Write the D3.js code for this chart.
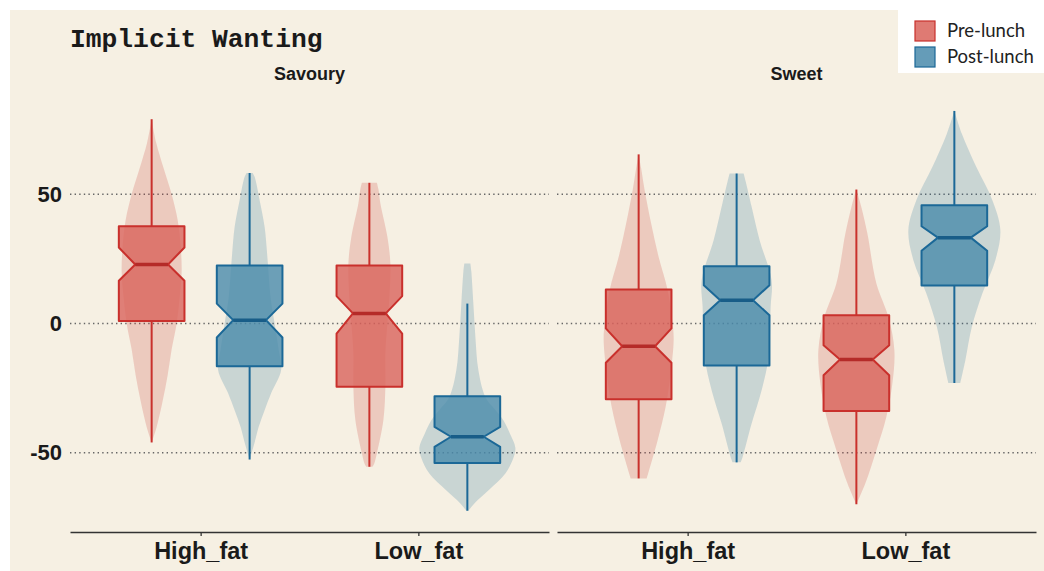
<!DOCTYPE html>
<html>
<head>
<meta charset="utf-8">
<script src="https://cdn.jsdelivr.net/npm/d3@7"></script>
<style>
  body { margin: 0; background: #ffffff; }
  svg { display: block; }
</style>
</head>
<body>
<div id="chart"></div>
<script>
var svgWidth = 1044;
var svgHeight = 571;

// facets, categories and the two sessions
var facets = ["Savoury", "Sweet"];
var foods = ["High_fat", "Low_fat"];
var sessions = ["Pre-lunch", "Post-lunch"];
var yTicks = [-50, 0, 50];

// box stats: [whiskerLow, q1, notchLow, median, notchHigh, q3, whiskerHigh]
var savouryPre = [[-46.0, 1.0, 16.5, 22.8, 29.4, 37.6, 79.0], [-55.4, -24.5, -3.9, 3.9, 10.6, 22.4, 54.4]];
var savouryPost = [[-52.6, -16.5, -5.4, 1.3, 7.7, 22.4, 58.2], [-72.4, -53.9, -47.7, -43.8, -40.0, -28.1, 7.7]];
var sweetPre = [[-59.9, -29.3, -15.2, -8.8, -1.9, 13.1, 65.4], [-69.9, -33.8, -20.0, -13.9, -8.4, 3.2, 51.8]];
var sweetPost = [[-53.7, -16.2, 3.2, 9.0, 14.8, 22.1, 58.0], [-23.0, 14.7, 28.1, 33.2, 37.6, 45.7, 82.2]];

// violin outlines: [value, density]
var savouryHighPreDens = [[79, 0], [70, 4.5], [60, 12], [50, 20], [40, 26], [30, 29], [20, 30], [10, 28], [0, 25], [-10, 20], [-20, 16], [-30, 11], [-40, 5], [-46, 0]];
var savouryHighPostDens = [[58.2, 3], [56.7, 5], [47.7, 10], [37.3, 15], [24.5, 18], [10, 21], [0, 25], [-10, 29], [-18, 31.5], [-27, 21.5], [-33.5, 15], [-40, 9], [-46, 5], [-52.6, 0]];
var savouryLowPreDens = [[54.4, 7.5], [52, 9], [46.4, 11], [33.5, 18], [23, 21], [10, 20], [0, 18], [-11.5, 16], [-24.5, 16], [-37.4, 14], [-50.2, 7.5], [-54, 5], [-55.4, 3]];
var savouryLowPostDens = [[23.2, 3], [20, 4], [7.7, 6], [-5, 8], [-18, 11], [-28.4, 18], [-33, 27], [-37.4, 36], [-42.5, 42.5], [-48, 48], [-52, 46], [-58, 38], [-64.4, 21.5], [-69.6, 7], [-72.4, 1]];
var sweetHighPreDens = [[65.4, 0], [60, 2.5], [51.5, 6], [38.7, 12.5], [25.7, 20], [12.9, 29], [0, 34], [-6.5, 35], [-19.3, 32], [-32.2, 27], [-45.1, 19], [-58, 9.5], [-59.9, 8]];
var sweetHighPostDens = [[58, 7], [55, 9], [45.1, 15], [32.2, 23], [16.7, 35], [6.4, 34], [-12.9, 32], [-25.8, 25], [-38.7, 15], [-51.6, 6], [-53.7, 4]];
var sweetLowPreDens = [[51.8, 0], [45, 5], [34.8, 11], [15.5, 20], [2.6, 32], [-10.3, 38], [-23.2, 36], [-36.1, 30], [-49, 20], [-61.8, 9], [-69.9, 0]];
var sweetLowPostDens = [[82.2, 0], [73.4, 7.5], [60.5, 22], [47.7, 38], [36.1, 46], [24.5, 41], [11.6, 28], [-1.3, 17.5], [-14.2, 11], [-23, 6]];

var strokeCol = { "Pre-lunch": "#c9302c", "Post-lunch": "#1b6897" };
var boxFill = { "Pre-lunch": "#d9635b", "Post-lunch": "#4a8bab" };

// build the groups from the arrays above
var groups = [];
var stats = { Savoury: [savouryPre, savouryPost], Sweet: [sweetPre, sweetPost] };
var dens = {
  Savoury: [[savouryHighPreDens, savouryHighPostDens], [savouryLowPreDens, savouryLowPostDens]],
  Sweet: [[sweetHighPreDens, sweetHighPostDens], [sweetLowPreDens, sweetLowPostDens]]
};
facets.forEach(function(f) {
  foods.forEach(function(food, i) {
    sessions.forEach(function(s, j) {
      var b = stats[f][j][i];
      groups.push({
        facet: f, food: food, session: s,
        lo: b[0], q1: b[1], nlo: b[2], med: b[3], nhi: b[4], q3: b[5], hi: b[6],
        dens: dens[f][i][j]
      });
    });
  });
});

var svg = d3.select("#chart")
  .append("svg")
  .attr("width", svgWidth)
  .attr("height", svgHeight);

// beige panel background
svg.append("rect")
  .attr("x", 10).attr("y", 10)
  .attr("width", svgWidth - 10).attr("height", svgHeight - 10)
  .attr("fill", "#f6f0e3");

// scales
var panelScale = d3.scaleBand()
  .domain(facets)
  .range([70, 1036])
  .paddingInner(8 / 487);
var pw = panelScale.bandwidth();

var xScale = d3.scalePoint()
  .domain(foods)
  .range([0, pw])
  .padding(0.6);
var step = xScale.step();

var dodge = d3.scaleBand()
  .domain(sessions)
  .range([-step * 0.45, step * 0.45]);
var boxHalf = dodge.bandwidth() * 0.67 / 2;

var yScale = d3.scaleLinear()
  .domain([-50, 50])
  .range([452.8, 194.2]);

var wScale = d3.scaleLinear()
  .domain([0, 50])
  .range([0, 50]);

// y axis labels (plain hyphen for negatives)
var leftAxis = d3.axisLeft(yScale)
  .tickValues(yTicks)
  .tickFormat(d => String(d))
  .tickSize(0)
  .tickPadding(8);
var yAxis = svg.append("g")
  .attr("transform", "translate(70,0)")
  .call(leftAxis);
yAxis.select(".domain").remove();
yAxis.selectAll("text")
  .attr("font-family", "Liberation Sans, Arial, sans-serif")
  .attr("font-weight", "bold")
  .attr("font-size", 22)
  .attr("fill", "#1a1a1a");

facets.forEach(function(f) {
  var px = panelScale(f);
  var panel = svg.append("g").attr("transform", "translate(" + px + ",0)");

  // dotted grid
  panel.selectAll(".grid")
    .data(yTicks)
    .enter()
    .append("line")
    .attr("x1", 0).attr("x2", pw)
    .attr("y1", d => yScale(d)).attr("y2", d => yScale(d))
    .attr("stroke", "#666")
    .attr("stroke-width", 1.6)
    .attr("stroke-dasharray", "1.4,3.2");

  // facet strip label
  panel.append("text")
    .attr("x", pw / 2).attr("y", 80)
    .attr("text-anchor", "middle")
    .attr("font-family", "Liberation Sans, Arial, sans-serif")
    .attr("font-weight", "bold")
    .attr("font-size", 18)
    .attr("fill", "#1a1a1a")
    .text(f);

  // x axis
  var bottomAxis = d3.axisBottom(xScale).tickSize(4).tickSizeOuter(0).tickPadding(6);
  var xAxis = panel.append("g")
    .attr("transform", "translate(0,532)")
    .call(bottomAxis);
  xAxis.select(".domain").attr("stroke", "#333").attr("stroke-width", 1.6);
  xAxis.selectAll(".tick line").attr("stroke", "#333").attr("stroke-width", 1.3);
  xAxis.selectAll("text")
    .attr("font-family", "Liberation Sans, Arial, sans-serif")
    .attr("font-weight", "bold")
    .attr("font-size", 23.5)
    .attr("fill", "#1a1a1a");

  var pg = groups.filter(g => g.facet === f);

  // violins
  pg.forEach(function(g) {
    var cx = xScale(g.food) + dodge(g.session) + dodge.bandwidth() / 2;
    var area = d3.area()
      .y(d => yScale(d[0]))
      .x0(d => cx - wScale(d[1]))
      .x1(d => cx + wScale(d[1]))
      .curve(d3.curveCatmullRom.alpha(0.5));
    panel.append("path")
      .datum(g.dens)
      .attr("d", area)
      .attr("fill", strokeCol[g.session])
      .attr("fill-opacity", 0.2);
  });

  // boxes with notches
  pg.forEach(function(g) {
    var cx = xScale(g.food) + dodge(g.session) + dodge.bandwidth() / 2;
    var L = cx - boxHalf, R = cx + boxHalf, nw = boxHalf / 2;
    var col = strokeCol[g.session];
    panel.append("line")
      .attr("x1", cx).attr("x2", cx)
      .attr("y1", yScale(g.hi)).attr("y2", yScale(g.q3))
      .attr("stroke", col).attr("stroke-width", 2);
    panel.append("line")
      .attr("x1", cx).attr("x2", cx)
      .attr("y1", yScale(g.q1)).attr("y2", yScale(g.lo))
      .attr("stroke", col).attr("stroke-width", 2);
    var pts = [
      [L, g.q3], [R, g.q3], [R, g.nhi], [cx + nw, g.med], [R, g.nlo], [R, g.q1],
      [L, g.q1], [L, g.nlo], [cx - nw, g.med], [L, g.nhi]
    ];
    panel.append("path")
      .attr("d", "M" + pts.map(p => p[0] + "," + yScale(p[1])).join("L") + "Z")
      .attr("fill", boxFill[g.session])
      .attr("fill-opacity", 0.8)
      .attr("stroke", col)
      .attr("stroke-width", 2)
      .attr("stroke-linejoin", "round");
    panel.append("line")
      .attr("x1", cx - nw).attr("x2", cx + nw)
      .attr("y1", yScale(g.med)).attr("y2", yScale(g.med))
      .attr("stroke", d3.color(col).darker(0.3))
      .attr("stroke-width", 3.5);
  });
});

// title
svg.append("text")
  .attr("x", 70).attr("y", 47)
  .attr("font-family", "Liberation Mono, Courier New, monospace")
  .attr("font-weight", "bold")
  .attr("font-size", 26.3)
  .attr("fill", "#1a1a1a")
  .text("Implicit Wanting");

// legend
var legend = svg.append("g");
legend.append("rect")
  .attr("x", 898).attr("y", 0)
  .attr("width", 146).attr("height", 73)
  .attr("fill", "#ffffff");
sessions.forEach(function(s, i) {
  legend.append("rect")
    .attr("x", 915).attr("y", 21 + i * 26)
    .attr("width", 20).attr("height", 20)
    .attr("fill", boxFill[s]).attr("fill-opacity", 0.85)
    .attr("stroke", strokeCol[s]).attr("stroke-width", 1.2);
  legend.append("text")
    .attr("x", 947).attr("y", 31 + i * 26)
    .attr("dy", "0.35em")
    .attr("font-family", "Lato, Open Sans, sans-serif")
    .attr("font-size", 18.5)
    .attr("fill", "#222")
    .text(s);
});
</script>
</body>
</html>
